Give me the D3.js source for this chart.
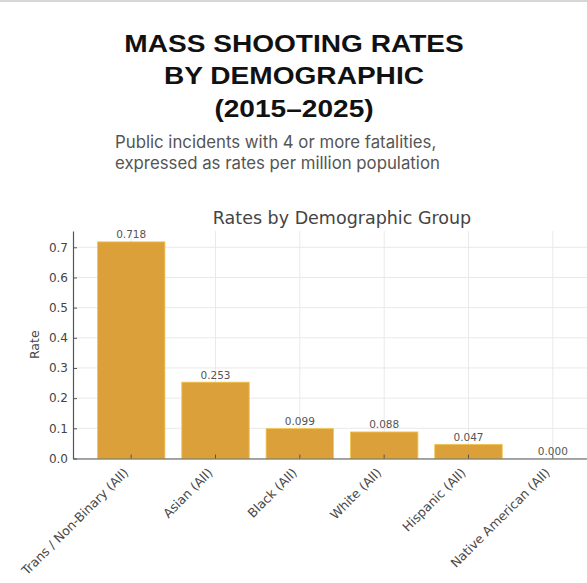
<!DOCTYPE html>
<html>
<head>
<meta charset="utf-8">
<script src="https://cdn.jsdelivr.net/npm/d3@7"></script>
<style>
  body { margin: 0; background: #fff; }
  svg { display: block; }
</style>
</head>
<body>
<div id="chart"></div>
<script>
// data
var groups = ["Trans / Non-Binary (All)", "Asian (All)", "Black (All)", "White (All)", "Hispanic (All)", "Native American (All)"];
var rates = [0.718, 0.253, 0.099, 0.088, 0.047, 0.000];
var yTicks = [0.0, 0.1, 0.2, 0.3, 0.4, 0.5, 0.6, 0.7];

var titleLines = ["MASS SHOOTING RATES", "BY DEMOGRAPHIC", "(2015\u20132025)"];
var subLines = ["Public incidents with 4 or more fatalities,", "expressed as rates per million population"];

function main(){
    var W = 587, H = 583;
    var svg = d3.select("#chart").append("svg")
        .attr("width", W)
        .attr("height", H);

    // faint frame line at the top of the screenshot
    svg.append("rect")
        .attr("x", 0).attr("y", 0)
        .attr("width", W).attr("height", 2)
        .attr("fill", "#d6d6d6");

    // header (the source font is a bit wider, so stretch it sideways)
    var head = svg.append("g")
        .attr("transform", "translate(294,0)scale(1.17,1)");
    head.selectAll(".title")
        .data(titleLines)
        .enter().append("text")
        .attr("x", 0)
        .attr("y", function(d, i){ return 52 + i * 32.5; })
        .attr("text-anchor", "middle")
        .style("font-family", "'Liberation Sans', Arial, sans-serif")
        .style("font-weight", "700")
        .style("font-size", "24px")
        .attr("fill", "#111")
        .text(function(d){ return d; });

    svg.selectAll(".sub")
        .data(subLines)
        .enter().append("text")
        .attr("x", 115)
        .attr("y", function(d, i){ return 148 + i * 20.5; })
        .style("font-family", "Inter, 'Liberation Sans', sans-serif")
        .style("font-size", "16.8px")
        .attr("fill", "#555")
        .text(function(d){ return d; });

    // plot
    var left = 73, right = 611, top = 231, bottom = 458.5;
    var font = "'DejaVu Sans', sans-serif";

    var xScale = d3.scaleBand()
        .domain(groups)
        .range([left, right])
        .paddingInner(0.2)
        .paddingOuter(0.29);

    var yScale = d3.scaleLinear()
        .domain([0, 0.754])
        .range([bottom, top]);

    var g = svg.append("g");

    // grid
    g.selectAll(".hgrid")
        .data(yTicks)
        .enter().append("line")
        .attr("x1", left).attr("x2", right)
        .attr("y1", function(d){ return yScale(d); })
        .attr("y2", function(d){ return yScale(d); })
        .attr("stroke", "#e9e9e9")
        .attr("stroke-width", 1);

    g.selectAll(".vgrid")
        .data(groups)
        .enter().append("line")
        .attr("x1", function(d){ return xScale(d) + xScale.bandwidth() / 2; })
        .attr("x2", function(d){ return xScale(d) + xScale.bandwidth() / 2; })
        .attr("y1", top).attr("y2", bottom)
        .attr("stroke", "#e9e9e9")
        .attr("stroke-width", 1);

    // bars
    g.selectAll(".bar")
        .data(rates)
        .enter().append("rect")
        .attr("x", function(d, i){ return xScale(groups[i]); })
        .attr("y", function(d){ return yScale(d); })
        .attr("width", xScale.bandwidth())
        .attr("height", function(d){ return bottom - yScale(d); })
        .attr("fill", "#dba03a")
        .attr("stroke", "#f2c64e")
        .attr("stroke-width", 0.8);

    // value labels
    g.selectAll(".val")
        .data(rates)
        .enter().append("text")
        .attr("x", function(d, i){ return xScale(groups[i]) + xScale.bandwidth() / 2; })
        .attr("y", function(d){ return yScale(d) - 3.5; })
        .attr("text-anchor", "middle")
        .style("font-family", font)
        .style("font-size", "10.5px")
        .attr("fill", "#555")
        .text(function(d){ return d.toFixed(3); });

    // axes
    var yAxis = g.append("g")
        .attr("transform", "translate(" + left + ",0)")
        .call(d3.axisLeft(yScale).tickValues(yTicks).tickFormat(d3.format(".1f")).tickSizeInner(-4).tickSizeOuter(0).tickPadding(5));
    yAxis.select(".domain").attr("stroke", "#555").attr("stroke-width", 1.2);
    yAxis.selectAll(".tick line").attr("stroke", "#555");
    yAxis.selectAll("text")
        .style("font-family", font)
        .style("font-size", "12px")
        .attr("fill", "#444");

    var xAxis = g.append("g")
        .attr("transform", "translate(0," + bottom + ")")
        .call(d3.axisBottom(xScale).tickSizeInner(-4).tickSizeOuter(0).tickPadding(6));
    xAxis.select(".domain").attr("stroke", "#555").attr("stroke-width", 1.2);
    xAxis.selectAll(".tick line").attr("stroke", "#555");
    xAxis.selectAll("text")
        .style("font-family", font)
        .style("font-size", "12.6px")
        .attr("fill", "#4a4a4a")
        .attr("y", 0).attr("dy", 0)
        .attr("transform", "translate(-2,15)rotate(-45)")
        .style("text-anchor", "end");

    // titles
    g.append("text")
        .attr("x", (left + right) / 2)
        .attr("y", 224)
        .attr("text-anchor", "middle")
        .style("font-family", font)
        .style("font-size", "17.5px")
        .attr("fill", "#444")
        .text("Rates by Demographic Group");

    g.append("text")
        .attr("transform", "translate(39," + ((top + bottom) / 2) + ")rotate(-90)")
        .attr("text-anchor", "middle")
        .style("font-family", font)
        .style("font-size", "12.5px")
        .attr("fill", "#444")
        .text("Rate");
}

main();
</script>
</body>
</html>
